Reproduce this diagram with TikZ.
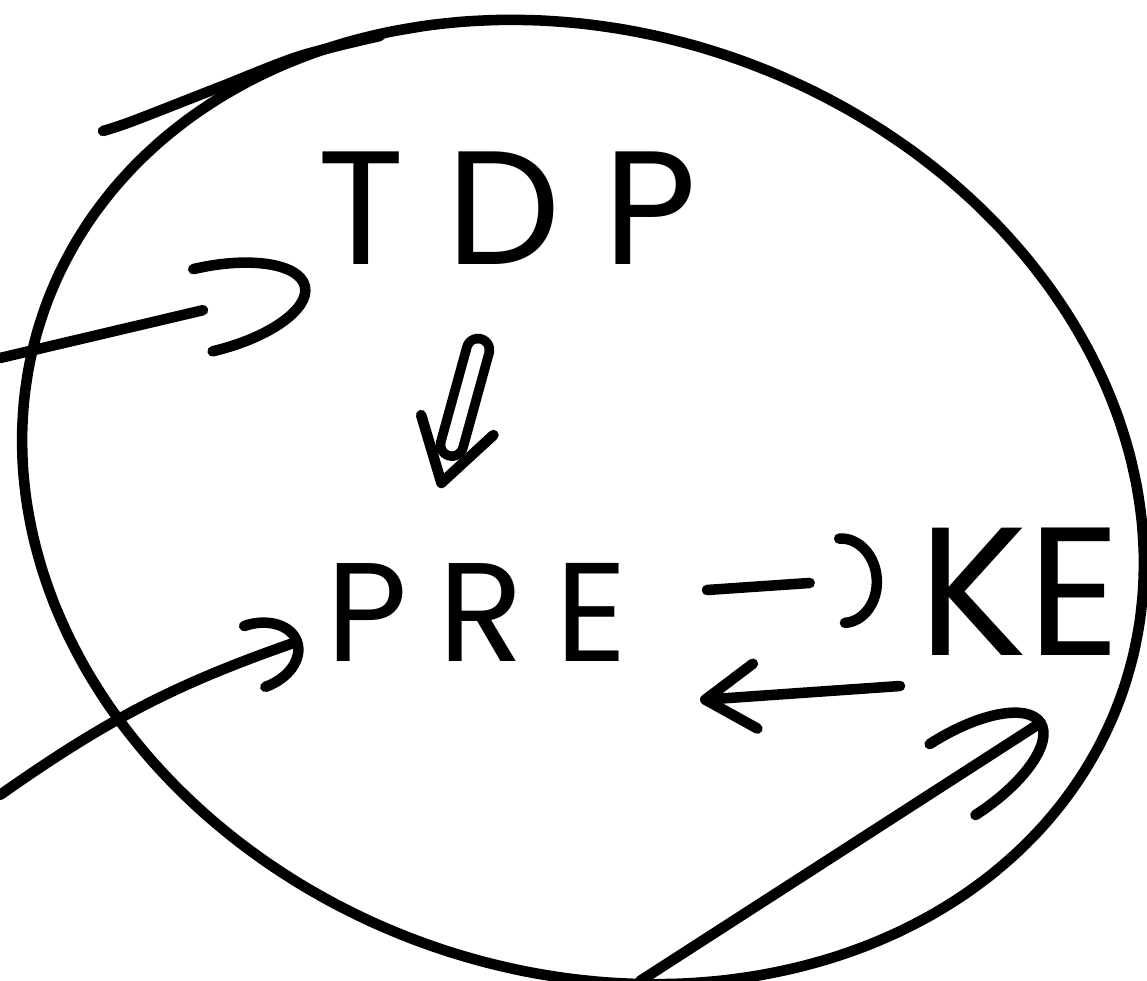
\documentclass[tikz,border=0pt]{standalone}
\usepackage{fontspec}
\setmainfont{Poppins}
\newfontfamily\handwide[LetterSpace=26]{Poppins}
\newfontfamily\handmid[LetterSpace=22]{Poppins}
\usetikzlibrary{arrows.meta, calc}

\begin{document}
\begin{tikzpicture}[x=0.02cm, y=-0.02cm,
		pen/.style={line width=6pt, line cap=round, line join=round},
		word/.style={inner sep=0pt},
		hook/.style 2 args={pen, -{Arc Barb[length=#1, width=#2, round]}},
		barb/.style 2 args={pen, -{Straight Barb[length=#1, width=#2, round]}},
		tiponly/.style={line cap=butt},
		dbl/.style={line width=5.5pt, double, double distance=7.5pt, line cap=round}
	]
	\useasboundingbox (0,0) rectangle (1147,981);
	
	% der Kreis
	\draw[pen] plot[smooth, domain=-131:237, samples=92]
		({583+572*cos(\x)*cos(20)-469*sin(\x)*sin(20)},
		 {502+572*cos(\x)*sin(20)+469*sin(\x)*cos(20)});
	\draw[pen] plot[smooth] coordinates {(103,131) (133,121) (220,87) (300,56) (380,36)};
	
	\node[word, font=\handwide\fontsize{92}{92}\selectfont] (tdp) at (507,208) {TDP};
	\node[word, font=\handmid\fontsize{80}{80}\selectfont] (pre) at (477,612) {PRE};
	\node[word, font=\fontsize{104}{104}\selectfont] (ke) at (1020,592) {KE};
	
	\coordinate (tdpFrom) at (0,358);
	\coordinate (preFrom) at (0,795);
	\coordinate (keFrom) at (640,981);
	\coordinate (tdpIn) at ([shift={(-197,77)}]tdp.center);
	\coordinate (preIn) at ([shift={(-175,28)}]pre.center);
	\coordinate (keIn) at ([shift={(25,128)}]ke.center);
	
	% von aussen
	\draw[pen, shorten >=2.2cm] (tdpFrom) -- (tdpIn);
	\draw[hook={2.2cm}{1.9cm}, tiponly] ($(tdpFrom)!0.97!(tdpIn)$) -- (tdpIn);
	\draw[hook={1cm}{1.5cm}] (preFrom) to[bend left=8] (preIn);
	\draw[hook={2.2cm}{1.9cm}] (keFrom) -- (keIn);
	
	% innen
	\coordinate (dblFrom) at ([shift={(-29,142)}]tdp.center);
	\coordinate (dblTo) at ([shift={(-37,-124)}]pre.center);
	\draw[dbl, shorten >=0.9cm] (dblFrom) -- (dblTo);
	\draw[barb={1.2cm}{1.5cm}, tiponly] ($(dblFrom)!0.95!(dblTo)$) -- (dblTo);
	
	\coordinate (preOut) at ([shift={(230,-22)}]pre.center);
	\coordinate (keFromPre) at ([shift={(-138,-14)}]ke.center);
	\draw[pen, shorten >=1.45cm] (preOut) -- (keFromPre);
	\draw[hook={0.8cm}{1.9cm}, tiponly] ($(preOut)!0.95!(keFromPre)$) -- (keFromPre);
	
	\draw[barb={1cm}{1.3cm}] ([shift={(-120,94)}]ke.center) -- ([shift={(223,88)}]pre.center);
\end{tikzpicture}
\end{document}
